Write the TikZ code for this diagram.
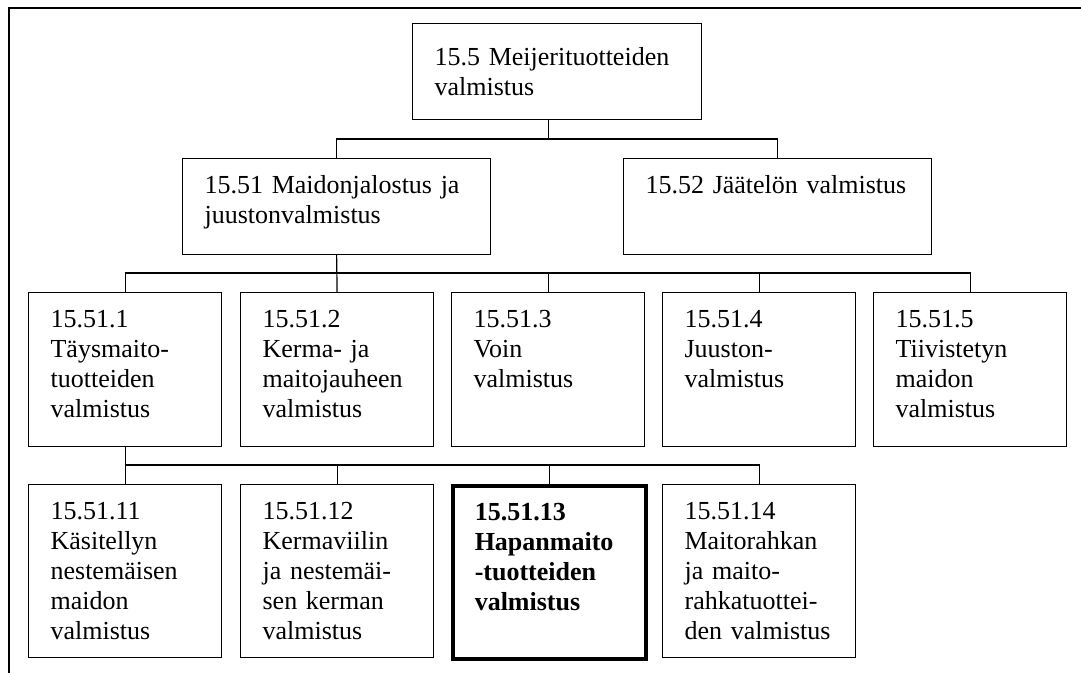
\documentclass[tikz,border=0pt]{standalone}
\usepackage{fontspec}
\setmainfont{Liberation Serif}
\usetikzlibrary{positioning, calc}

\tikzset{
  unit/.style={draw, line width=1.2pt, anchor=north west, align=left,
    inner xsep=22pt, inner ysep=0pt, text height=35pt,
    font=\fontsize{26}{30}\selectfont},
  headunit/.style={unit, text width=245pt, text height=42pt, text depth=54pt},
  branch/.style={unit, text width=264pt, text depth=61pt},
  item/.style={unit, text width=149pt, text depth=119pt},
  subitem/.style={unit, text width=149pt, text depth=138pt},
  marked/.style={line width=3.5pt, font=\fontsize{26}{30}\selectfont\bfseries},
  link/.style={line width=1.2pt},
}

\begin{document}
\begin{tikzpicture}[x=1pt,y=-1pt]
\useasboundingbox (0,0) rectangle (1081,673);
% frame
\draw[line width=1.5pt] (9,673) -- (9,8) -- (1081,8);

% top level
\node[headunit] (top) at (412,23) {15.5 Meijerituotteiden\\valmistus};

% second level
\node[branch] (a) at (182,158) {15.51 Maidonjalostus ja\\juustonvalmistus};
\node[branch] (b) at (623,158) {15.52 Jäätelön valmistus};

% third level
\node[item] (c1) at (28,292) {15.51.1\\Täysmaito-\\tuotteiden\\valmistus};
\node[item] (c2) at (240,292) {15.51.2\\Kerma- ja\\maitojauheen\\valmistus};
\node[item] (c3) at (451,292) {15.51.3\\Voin\\valmistus};
\node[item] (c4) at (662,292) {15.51.4\\Juuston-\\valmistus};
\node[item] (c5) at (873,292) {15.51.5\\Tiivistetyn\\maidon\\valmistus};

% fourth level
\node[subitem] (d1) at (28,484) {15.51.11\\Käsitellyn\\nestemäisen\\maidon\\valmistus};
\node[subitem] (d2) at (240,484) {15.51.12\\Kermaviilin\\ja nestemäi-\\sen kerman\\valmistus};
\node[subitem,marked] (d3) at (451,484) {15.51.13\\Hapanmaito\\-tuotteiden\\valmistus};
\node[subitem] (d4) at (662,484) {15.51.14\\Maitorahkan\\ja maito-\\rahkatuottei-\\den valmistus};

% buses
\coordinate (bus1) at (0,139);
\coordinate (bus2) at (0,273);
\coordinate (bus3) at (0,465);

\draw[link] (top.south -| c3.north) -- (bus1 -| c3.north);
\draw[link] (a.north) |- (bus1 -| b.north) -- (b.north);

\draw[link] (a.south) -- (c2.north);
\draw[link] (c1.north) |- (bus2 -| c5.north) -- (c5.north);
\draw[link] (c3.north) -- (bus2 -| c3.north);
\draw[link] (c4.north) -- (bus2 -| c4.north);

\draw[link] (c1.south) -- (bus3 -| c1.south);
\draw[link] (d1.north) |- (bus3 -| d4.north) -- (d4.north);
\draw[link] (d2.north) -- (bus3 -| d2.north);
\draw[link] (d3.north) -- (bus3 -| d3.north);
\end{tikzpicture}
\end{document}
